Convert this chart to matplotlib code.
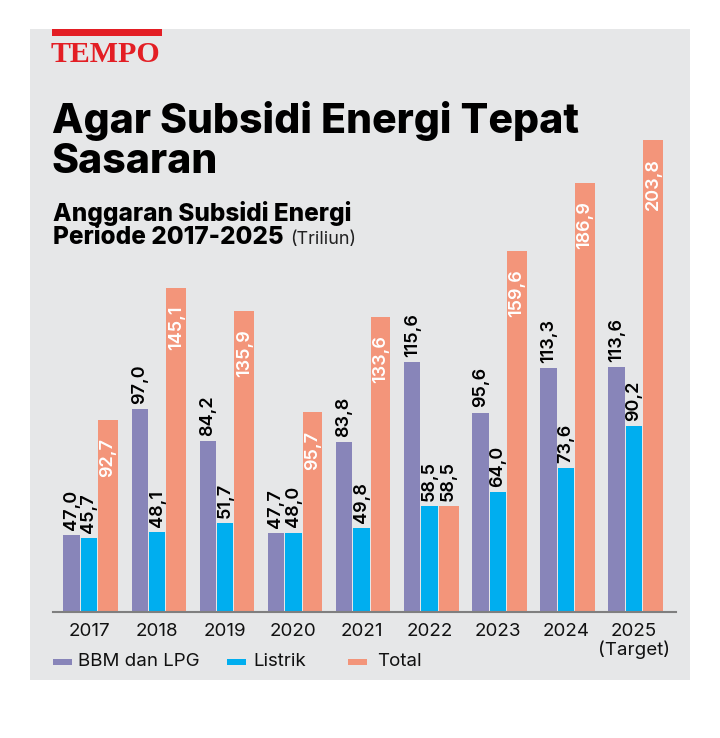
import matplotlib.pyplot as plt
from matplotlib.patches import Rectangle
import numpy as np

# Data (Triliun rupiah)
years = ["2017", "2018", "2019", "2020", "2021", "2022", "2023", "2024", "2025\n(Target)"]
bbm_lpg = [47.0, 97.0, 84.2, 47.7, 83.8, 115.6, 95.6, 113.3, 113.6]
listrik = [45.7, 48.1, 51.7, 48.0, 49.8, 58.5, 64.0, 73.6, 90.2]
total = [92.7, 145.1, 135.9, 95.7, 133.6, 58.5, 159.6, 186.9, 203.8]

c_bbm = "#8885B9"
c_lis = "#00AEEF"
c_tot = "#F3957A"
c_bg = "#E6E7E8"
FONT = "Inter"

W, H = 720, 738
fig = plt.figure(figsize=(W / 100, H / 100), dpi=100)
fig.patch.set_facecolor("white")

def fx(px):
	return px / W

def fy(py):
	return 1 - py / H

# gray panel
fig.patches.append(Rectangle((fx(30), fy(680)), fx(660), 651 / H, transform=fig.transFigure,
	facecolor=c_bg, edgecolor="none", zorder=-10))
# red bar over logo
fig.patches.append(Rectangle((fx(52), fy(36)), fx(110), 7 / H, transform=fig.transFigure,
	facecolor="#E31E24", edgecolor="none"))

fig.text(fx(51), fy(62), "TEMPO", fontsize=21.5, fontweight="bold", family="Liberation Serif",
	color="#E31E24", va="baseline")

title_kw = dict(fontsize=29.5, fontweight=800, family=FONT, color="black", va="baseline")
fig.text(fx(52), fy(133), "Agar Subsidi Energi Tepat", **title_kw)
fig.text(fx(52), fy(173), "Sasaran", **title_kw)

sub_kw = dict(fontsize=17.5, fontweight=800, family=FONT, color="black", va="baseline")
fig.text(fx(53), fy(221), "Anggaran Subsidi Energi", **sub_kw)
t2 = fig.text(fx(53), fy(244), "Periode 2017-2025", **sub_kw)
sub_last = fig.text(0, 0, "(Triliun)", fontsize=13, family=FONT, color="#222222", va="baseline")

# chart
ax = fig.add_axes([fx(53), fy(612), fx(676 - 53), (612 - 140) / H])
ax.set_facecolor("none")
x = np.arange(len(years))
bw = 0.24
ax.bar(x - 0.255, bbm_lpg, width=bw, color=c_bbm, zorder=2)
ax.bar(x, listrik, width=bw, color=c_lis, zorder=2)
ax.bar(x + 0.28, total, width=0.29, color=c_tot, zorder=2)

ax.set_xlim(-0.528, 8.617)
ax.set_ylim(16.5, 203.8)

def fmt(v):
	return f"{v:.1f}".replace(".", ",")

lab_kw = dict(rotation=90, ha="center", fontsize=13, family=FONT, fontweight="semibold",
	textcoords="offset points", annotation_clip=False)
for i in range(len(years)):
	ax.annotate(fmt(bbm_lpg[i]), (x[i] - 0.255, bbm_lpg[i]), xytext=(0, 4), va="bottom", color="black", **lab_kw)
	ax.annotate(fmt(listrik[i]), (x[i], listrik[i]), xytext=(0, 4), va="bottom", color="black", **lab_kw)
	if total[i] > 80:
		ax.annotate(fmt(total[i]), (x[i] + 0.28, total[i]), xytext=(0, -13), va="top", color="white", **lab_kw)
	else:
		ax.annotate(fmt(total[i]), (x[i] + 0.28, total[i]), xytext=(0, 4), va="bottom", color="black", **lab_kw)

ax.set_xticks(x)
ax.set_xticklabels(years, fontsize=13.5, family=FONT, color="#111111", linespacing=1.0)
ax.tick_params(axis="x", length=0, pad=8)
ax.set_yticks([])
for s in ["top", "right", "left"]:
	ax.spines[s].set_visible(False)
ax.spines["bottom"].set_color("#7F7F7F")
ax.spines["bottom"].set_linewidth(1.5)
ax.spines["bottom"].set_zorder(3)

# legend
leg = [("BBM dan LPG", c_bbm, 53, 78), ("Listrik", c_lis, 227, 253), ("Total", c_tot, 348, 377)]
for name, col, px0, tx in leg:
	fig.patches.append(Rectangle((fx(px0), fy(665)), fx(19), 6 / H, transform=fig.transFigure,
		facecolor=col, edgecolor="none"))
	fig.text(fx(tx), fy(662), name, fontsize=13.5, family=FONT, color="#111111", va="center")

# place "(Triliun)" after subtitle line 2
fig.canvas.draw()
bb = t2.get_window_extent()
sub_last.set_position(((bb.x1 + 6) / W, fy(244)))

fig.savefig("out.png", dpi=100, facecolor="white")
